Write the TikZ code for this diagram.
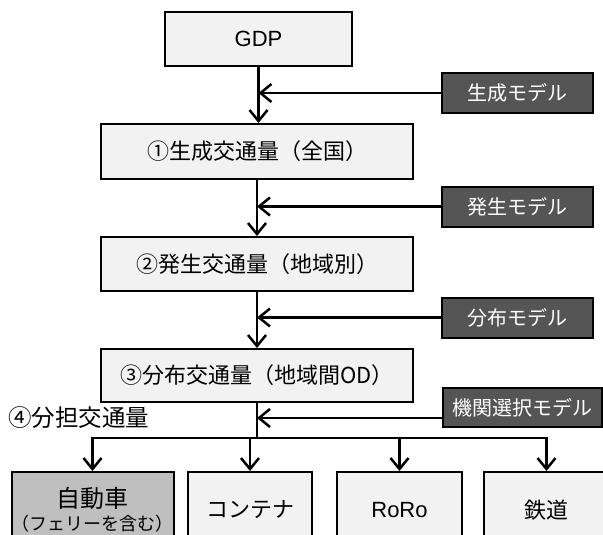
\documentclass[tikz,border=0pt]{standalone}
\usepackage{fontspec}
\setmainfont{Noto Sans CJK JP}
\newfontfamily\latinf{Liberation Sans}
\usetikzlibrary{arrows.meta}
\definecolor{lightbox}{RGB}{242,242,242}
\definecolor{darkbox}{RGB}{85,85,85}
\definecolor{carbox}{RGB}{191,191,191}
\begin{document}
\begin{tikzpicture}[x=1pt,y=-1pt,
 basebox/.style={draw=black, line width=2pt, inner sep=0pt},
 mainbox/.style={basebox, fill=lightbox, minimum width=312pt, minimum height=54pt, font=\fontsize{22}{25}\selectfont},
 modelbox/.style={basebox, fill=darkbox, text=white, minimum height=40pt, minimum width=151pt, font=\fontsize{20}{23}\selectfont},
 modebox/.style={basebox, fill=lightbox, minimum height=76pt, minimum width=125pt, font=\fontsize{22}{25}\selectfont},
 conn/.style={line width=2.5pt},
 arr/.style={conn, -{Straight Barb[length=11pt,width=18pt]}}
]
\useasboundingbox (0,0) rectangle (603,535);
\clip (0,0) rectangle (603,535);

% main chain
\node[mainbox, minimum width=187pt, font=\latinf\fontsize{22}{25}\selectfont] (gdp) at (258.5,39) {GDP};
\node[mainbox, minimum height=55pt] (b1) at (257,151.5) {①生成交通量（全国）};
\node[mainbox] (b2) at (257,264) {②発生交通量（地域別）};
\node[mainbox, minimum height=53pt] (b3) at (257,375.5) {③分布交通量（地域間OD）};

% model boxes
\node[modelbox] (m1) at (517,93) {生成モデル};
\node[modelbox] (m2) at (517,206.5) {発生モデル};
\node[modelbox] (m3) at (517,317.5) {分布モデル};
\node[modelbox, minimum width=159pt, minimum height=39pt] (m4) at (522.5,407.5) {機関選択モデル};

% label
\node[anchor=west, inner sep=0pt, font=\fontsize{23.5}{26}\selectfont] (lbl) at (8,418) {④分担交通量};

% mode boxes
\node[modebox, fill=carbox, minimum width=151pt, align=center, font=\fontsize{24}{26}\selectfont] (c1) at (92.5,510)
  {自動車\\[-3pt]{\fontsize{18}{20}\selectfont （フェリーを含む）}};
\node[modebox, minimum width=124pt] (c2) at (250,510) {コンテナ};
\node[modebox, font=\latinf\fontsize{22}{25}\selectfont] (c3) at (399.5,510) {RoRo};
\node[modebox] (c4) at (546.5,510) {鉄道};

% vertical chain arrows
\draw[arr] (gdp.south) -- (gdp.south |- b1.north);
\draw[arr] (b1.south) -- (b2.north);
\draw[arr] (b2.south) -- (b3.north);

% model arrows
\draw[arr] (m1.west) -- (m1.west -| gdp.south);
\draw[arr] (m2.west) -- (m2.west -| b1.south);
\draw[arr] (m3.west) -- (m3.west -| b2.south);
\coordinate (m4in) at ([yshift=-10.5pt]m4.west);
\draw[arr] (m4in) -- (m4in -| b3.south);

% branch
\coordinate (br) at (257,438);
\draw[conn] (b3.south) -- (br);
\draw[conn, line cap=rect] (c1.north |- br) -- (c4.north |- br);
\draw[arr] (c1.north |- br) -- (c1.north);
\draw[arr] (c2.north |- br) -- (c2.north);
\draw[arr] (c3.north |- br) -- (c3.north);
\draw[arr] (c4.north |- br) -- (c4.north);
\end{tikzpicture}
\end{document}
